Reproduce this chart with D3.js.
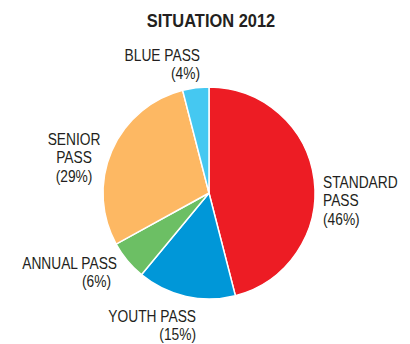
<!DOCTYPE html>
<html lang="en">
<head>
<meta charset="UTF-8">
<title>Situation 2012</title>
<style>
  body { margin: 0; background: #fff; }
  text { font-family: "Liberation Sans", Arial, sans-serif; fill: #231f20; }
</style>
</head>
<body>
<script src="https://d3js.org/d3.v7.min.js"></script>
<script>
// data
var categories = ['STANDARD PASS', 'YOUTH PASS', 'ANNUAL PASS', 'SENIOR PASS', 'BLUE PASS'];
var values = [46, 15, 6, 29, 4];
var labelLines = [['STANDARD', 'PASS'], ['YOUTH PASS'], ['ANNUAL PASS'], ['SENIOR', 'PASS'], ['BLUE PASS']];

var colors = ['#ed1c24', '#0097d8', '#6cbf64', '#fdb863', '#45c8f1'];

var width = 410, height = 344;
var cx = 209, cy = 193, radius = 106;
var squeeze = 0.81; // no condensed font installed, so narrow the text by hand

var svg = d3.select('body').append('svg')
    .attr('width', width)
    .attr('height', height);

svg.append('g')
    .attr('transform', `translate(211, 27) scale(0.865, 1)`)
    .append('text')
    .text('SITUATION 2012')
    .attr('text-anchor', 'middle')
    .style('font-size', '19px')
    .style('font-weight', 'bold');

var data = categories.map(function(c, i) {
    return { name: c, value: values[i], lines: labelLines[i], color: colors[i] };
});

var pie = d3.pie().sort(null).value(d => d.value);
var arc = d3.arc().innerRadius(0).outerRadius(radius);

var g = svg.append('g')
    .attr('transform', `translate(${cx}, ${cy})`);

g.selectAll('path')
    .data(pie(data))
    .enter().append('path')
    .attr('d', arc)
    .style('fill', d => d.data.color)
    .style('stroke', '#fff')
    .style('stroke-width', 1.5);

// label placement per slice (anchor point + alignment, pctDx nudges the % line)
var labelPos = [
    { x: 323, y: 188, anchor: 'start', pctDx: 0 },
    { x: 196, y: 322, anchor: 'end', pctDx: 0 },
    { x: 117, y: 269, anchor: 'end', pctDx: -6 },
    { x: 74, y: 145, anchor: 'middle', pctDx: 0 },
    { x: 200, y: 61, anchor: 'end', pctDx: 0 }
];
var lineHeight = 18.5;

var labels = svg.selectAll('.label')
    .data(data)
    .enter().append('g')
    .attr('class', 'label')
    .attr('transform', (d, i) => `translate(${labelPos[i].x}, ${labelPos[i].y}) scale(${squeeze}, 1)`)
    .append('text')
    .attr('text-anchor', (d, i) => labelPos[i].anchor)
    .style('font-size', '17px');

labels.each(function(d, i) {
    var t = d3.select(this);
    var lines = d.lines.concat(['(' + d.value + '%)']);
    lines.forEach(function(l, j) {
        var last = j === lines.length - 1;
        t.append('tspan')
            .attr('x', last ? labelPos[i].pctDx / squeeze : 0)
            .attr('y', j * lineHeight)
            .text(l);
    });
});
</script>
</body>
</html>
